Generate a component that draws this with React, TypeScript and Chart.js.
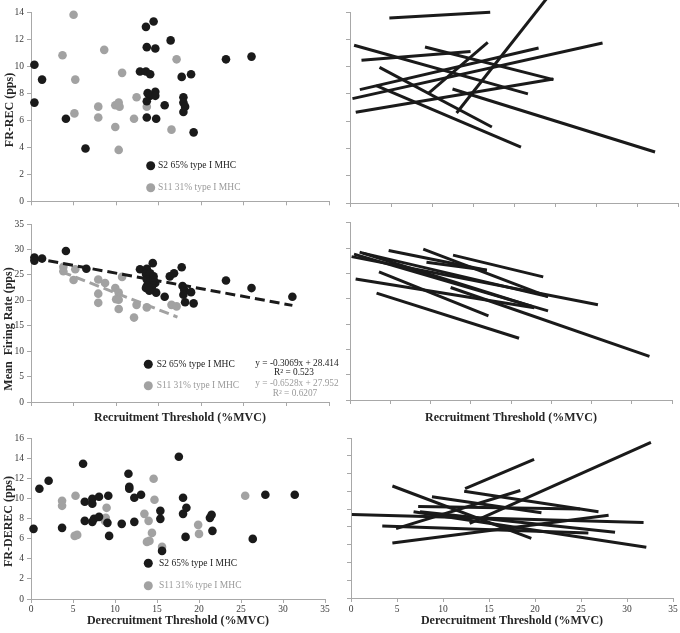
import React, { useEffect, useRef } from "react";
import { Chart, registerables } from "chart.js";

Chart.register(...registerables);

type Pt = [number, number];
type Seg = [number, number, number, number];

// ---------------- Data ----------------
// FR-REC (pps) vs recruitment threshold (%MVC)
const REC_S2: Pt[] = [
  [0.4, 10.1], [0.4, 7.3], [1.3, 9.0], [4.1, 6.1], [6.4, 3.9], [13.5, 12.9], [14.4, 13.3],
  [13.6, 11.4], [14.6, 11.3], [16.4, 11.9], [12.8, 9.6], [13.5, 9.6], [14.0, 9.4], [17.7, 9.2],
  [18.8, 9.4], [13.7, 8.0], [14.0, 7.8], [14.6, 8.1], [14.6, 7.8], [13.6, 7.4], [15.7, 7.1],
  [17.9, 7.7], [17.9, 7.3], [18.1, 7.0], [17.9, 6.6], [13.6, 6.2], [14.7, 6.1], [19.1, 5.1],
  [22.9, 10.5], [25.9, 10.7],
];
const REC_S11: Pt[] = [
  [5.0, 13.8], [3.7, 10.8], [5.2, 9.0], [8.6, 11.2], [10.7, 9.5], [17.1, 10.5], [5.1, 6.5],
  [7.9, 7.0], [7.9, 6.2], [9.9, 7.1], [10.3, 7.3], [10.4, 7.0], [12.4, 7.7], [12.1, 6.1],
  [9.9, 5.5], [10.3, 3.8], [13.6, 7.0], [16.5, 5.3],
];

// Mean firing rate (pps) vs recruitment threshold (%MVC)
const MFR_S2: Pt[] = [
  [0.4, 28.4], [0.4, 27.8], [1.3, 28.2], [4.1, 29.7], [6.5, 26.2], [12.8, 26.1], [13.6, 26.2],
  [14.3, 27.3], [13.5, 25.2], [14.0, 25.3], [14.4, 24.7], [13.6, 24.1], [14.0, 23.7], [14.6, 23.4],
  [13.6, 22.8], [14.2, 22.6], [13.5, 22.4], [14.7, 21.5], [13.9, 21.9], [14.4, 24.0], [15.7, 20.7],
  [16.3, 24.7], [16.8, 25.3], [17.7, 26.5], [17.8, 22.8], [18.0, 22.0], [17.9, 21.1], [18.8, 21.6],
  [18.1, 19.6], [19.1, 19.4], [22.9, 23.9], [25.9, 22.4], [30.7, 20.7],
];
const MFR_S11: Pt[] = [
  [3.8, 26.6], [3.8, 25.7], [5.2, 26.1], [5.0, 24.0], [7.9, 24.1], [8.7, 23.4], [7.9, 21.3],
  [7.9, 19.5], [9.9, 22.4], [10.3, 21.5], [10.0, 20.2], [10.3, 20.1], [10.3, 18.3], [10.7, 24.6],
  [12.4, 19.1], [12.1, 16.6], [13.6, 18.6], [16.5, 19.1], [17.1, 18.8],
];
const MFR_TREND_S2: Seg = [0.3, 28.3, 30.7, 19.0];
const MFR_TREND_S11: Seg = [3.6, 25.6, 17.2, 16.7];

// FR-DEREC (pps) vs derecruitment threshold (%MVC)
const DEREC_S2: Pt[] = [
  [0.3, 7.0], [1.0, 11.0], [2.1, 11.8], [3.7, 7.1], [6.2, 13.5], [6.4, 9.7], [6.4, 7.8],
  [7.3, 10.0], [7.3, 9.5], [7.3, 7.7], [7.5, 8.0], [8.1, 8.2], [8.1, 10.2], [9.2, 10.3],
  [9.1, 7.6], [9.3, 6.3], [10.8, 7.5], [11.6, 12.5], [11.7, 11.2], [11.7, 11.0], [12.3, 10.1],
  [12.3, 7.7], [13.1, 10.4], [15.4, 8.8], [15.4, 8.0], [15.6, 4.8], [17.6, 14.2], [18.1, 10.1],
  [18.1, 8.5], [18.5, 9.1], [18.4, 6.2], [21.3, 8.1], [21.5, 8.4], [21.6, 6.8], [26.4, 6.0],
  [27.9, 10.4], [31.4, 10.4],
];
const DEREC_S11: Pt[] = [
  [3.7, 9.8], [3.7, 9.3], [5.3, 10.3], [5.2, 6.3], [5.5, 6.4], [9.0, 9.1], [8.9, 8.1],
  [8.8, 7.8], [13.5, 8.5], [14.6, 12.0], [14.7, 9.9], [14.0, 7.8], [13.8, 5.7], [14.1, 5.8],
  [14.4, 6.6], [15.6, 5.2], [19.9, 7.4], [20.0, 6.5], [25.5, 10.3],
];

// Per-subject regression segments [x1, y1, x2, y2]
const REC_LINES: Seg[] = [
  [4.8, 13.56, 17.1, 13.98], [13.0, 6.6, 24.0, 15.0], [0.5, 11.56, 21.7, 8.0],
  [1.4, 10.46, 14.7, 11.1], [9.15, 11.43, 24.8, 9.04], [1.2, 8.31, 23.0, 11.36],
  [0.3, 7.65, 30.8, 11.73], [0.7, 6.65, 24.8, 9.09], [3.6, 9.94, 17.3, 5.57],
  [3.2, 8.6, 20.85, 4.1], [9.6, 8.06, 16.8, 11.78], [12.5, 8.36, 37.2, 3.74],
];
const MFR_LINES: Seg[] = [
  [4.8, 29.5, 17.0, 25.6], [9.1, 29.8, 24.6, 20.4], [12.8, 28.6, 24.0, 24.3],
  [9.5, 27.2, 17.0, 25.6], [0.2, 28.3, 30.8, 18.8], [0.5, 28.8, 24.6, 17.6],
  [1.2, 29.2, 22.7, 18.4], [1.6, 29.0, 24.6, 20.4], [0.7, 23.9, 22.9, 18.2],
  [3.6, 25.3, 17.2, 16.6], [3.3, 21.1, 21.0, 12.2], [12.5, 22.2, 37.2, 8.6],
];
const DEREC_LINES: Seg[] = [
  [0.1, 9.4, 31.8, 8.5], [4.5, 12.6, 19.6, 6.7], [4.9, 7.8, 18.4, 12.1],
  [3.4, 8.1, 25.8, 7.3], [4.5, 6.2, 28.0, 9.3], [12.4, 12.3, 19.9, 15.6],
  [12.3, 12.0, 26.9, 9.7], [8.8, 11.4, 20.7, 9.6], [7.3, 10.3, 24.9, 10.0],
  [7.5, 9.7, 28.7, 7.4], [12.9, 8.4, 32.6, 17.5], [6.8, 9.7, 32.1, 5.7],
];

const LEGEND_S2 = "S2 65% type I MHC";
const LEGEND_S11 = "S11 31% type I MHC";
const EQ_S2 = "y = -0.3069x + 28.414";
const R2_S2 = "R² = 0.523";
const EQ_S11 = "y = -0.6528x + 27.952";
const R2_S11 = "R² = 0.6207";

const TITLE_REC = "Recruitment Threshold (%MVC)";
const TITLE_DEREC = "Derecruitment Threshold (%MVC)";

// ---------------- Styling ----------------
const FONT = "'Liberation Serif', 'Times New Roman', serif";
const BLACK = "#1a1a1a";
const GRAY = "#a2a2a2";
const AXIS = "#a8a8a8";
const TICK_TEXT = "#3a3a3a";
const TITLE_TEXT = "#262626";

const xy = (pts: Pt[]) => pts.map(([x, y]) => ({ x, y }));
const segXY = (s: Seg) => [{ x: s[0], y: s[1] }, { x: s[2], y: s[3] }];

const scatterDs = (label: string, pts: Pt[], color: string) => ({
  label,
  data: xy(pts),
  backgroundColor: color,
  borderColor: color,
  pointRadius: 4.3,
  pointBorderWidth: 0,
  pointHoverRadius: 4.3,
  showLine: false,
  clip: false as any,
  order: 2,
});
const trendDs = (label: string, s: Seg, color: string) => ({
  label,
  data: segXY(s),
  borderColor: color,
  backgroundColor: color,
  borderWidth: 3,
  borderDash: [10, 5],
  pointRadius: 0,
  showLine: true,
  fill: false,
  order: 0,
});
const segDs = (s: Seg, i: number) => ({
  label: "s" + i,
  data: segXY(s),
  borderColor: BLACK,
  backgroundColor: BLACK,
  borderWidth: 3,
  pointRadius: 0,
  showLine: true,
  fill: false,
  clip: false as any,
});

interface AxisSpec {
  min: number;
  max: number;
  step: number;
  labels: boolean;
  size: number;
  title?: string;
  titlePad?: number;
  labelPad?: number;
}
interface TextItem {
  x: number;
  y: number;
  text: string;
  color: string;
  align?: CanvasTextAlign;
  size?: number;
  bold?: boolean;
  rotate?: boolean;
  dot?: boolean;
}
interface Panel {
  left: number;
  top: number;
  width: number;
  height: number;
  padTop: number;
  padRight: number;
  x: AxisSpec;
  y: AxisSpec;
  datasets: any[];
  texts: TextItem[];
}

const axis = (a: AxisSpec) => ({
  type: "linear",
  min: a.min,
  max: a.max,
  ticks: {
    stepSize: a.step,
    display: a.labels,
    autoSkip: false,
    maxRotation: 0,
    padding: a.labelPad ?? 3,
    color: TICK_TEXT,
    font: { family: FONT, size: 9.5 },
  },
  grid: {
    display: true,
    drawOnChartArea: false,
    drawTicks: true,
    tickLength: 4,
    tickWidth: 1,
    color: AXIS,
  },
  border: { display: true, color: AXIS, width: 1 },
  title: a.title
    ? {
        display: true,
        text: a.title,
        color: TITLE_TEXT,
        font: { family: FONT, size: 12, weight: "bold" },
        padding: { top: 0, bottom: a.titlePad ?? 0 },
      }
    : { display: false },
  afterFit: (s: any) => {
    if (s.isHorizontal()) s.height = a.size;
    else s.width = a.size;
  },
});

const legendTexts = (dotX: number, y1: number, y2: number, textX: number): TextItem[] => [
  { x: dotX, y: y1, text: "", color: BLACK, dot: true },
  { x: dotX, y: y2, text: "", color: GRAY, dot: true },
  { x: textX, y: y1, text: LEGEND_S2, color: "#222222" },
  { x: textX, y: y2, text: LEGEND_S11, color: "#9a9a9a" },
];

const PANELS: Panel[] = [
  // top-left
  {
    left: 0, top: 0, width: 340, height: 210, padTop: 12, padRight: 11,
    x: { min: 0, max: 35, step: 5, labels: false, size: 7 },
    y: { min: 0, max: 14, step: 2, labels: true, size: 31 },
    datasets: [scatterDs(LEGEND_S2, REC_S2, BLACK), scatterDs(LEGEND_S11, REC_S11, GRAY)],
    texts: [
      { x: 10, y: 110, text: "FR-REC (pps)", color: TITLE_TEXT, bold: true, size: 12, rotate: true, align: "center" },
      ...legendTexts(150.7, 165.7, 187.7, 158),
    ],
  },
  // middle-left
  {
    left: 0, top: 210, width: 340, height: 220, padTop: 14, padRight: 11,
    x: { min: 0, max: 35, step: 5, labels: false, size: 28, title: TITLE_REC, titlePad: 5.3 },
    y: { min: 0, max: 35, step: 5, labels: true, size: 31 },
    datasets: [
      trendDs("S2 trend", MFR_TREND_S2, BLACK),
      trendDs("S11 trend", MFR_TREND_S11, GRAY),
      scatterDs(LEGEND_S2, MFR_S2, BLACK),
      scatterDs(LEGEND_S11, MFR_S11, GRAY),
    ],
    texts: [
      { x: 9, y: 119, text: "Mean  Firing Rate (pps)", color: TITLE_TEXT, bold: true, size: 12, rotate: true, align: "center" },
      ...legendTexts(148.3, 154.3, 175.7, 156.7),
      { x: 297, y: 153.3, text: EQ_S2, color: "#222222", align: "center", size: 9.3 },
      { x: 294, y: 162.7, text: R2_S2, color: "#222222", align: "center", size: 9.3 },
      { x: 297, y: 173.3, text: EQ_S11, color: "#9a9a9a", align: "center", size: 9.3 },
      { x: 295, y: 183.3, text: R2_S11, color: "#9a9a9a", align: "center", size: 9.3 },
    ],
  },
  // bottom-left
  {
    left: 0, top: 430, width: 340, height: 203, padTop: 8, padRight: 15,
    x: { min: 0, max: 35, step: 5, labels: true, size: 34, title: TITLE_DEREC, titlePad: 4.6, labelPad: 1 },
    y: { min: 0, max: 16, step: 2, labels: true, size: 31 },
    datasets: [scatterDs(LEGEND_S2, DEREC_S2, BLACK), scatterDs(LEGEND_S11, DEREC_S11, GRAY)],
    texts: [
      { x: 9, y: 91.5, text: "FR-DEREC (pps)", color: TITLE_TEXT, bold: true, size: 12, rotate: true, align: "center" },
      ...legendTexts(148.3, 133.3, 155.7, 159),
    ],
  },
  // top-right
  {
    left: 340, top: 0, width: 340, height: 210, padTop: 12, padRight: 2,
    x: { min: 0, max: 40, step: 5, labels: false, size: 7 },
    y: { min: 0, max: 14, step: 2, labels: false, size: 10 },
    datasets: REC_LINES.map(segDs),
    texts: [],
  },
  // middle-right
  {
    left: 340, top: 210, width: 340, height: 220, padTop: 12.7, padRight: 8,
    x: { min: 0, max: 40, step: 5, labels: false, size: 30, title: TITLE_REC, titlePad: 5.3 },
    y: { min: 0, max: 35, step: 5, labels: false, size: 10 },
    datasets: MFR_LINES.map(segDs),
    texts: [],
  },
  // bottom-right
  {
    left: 340, top: 430, width: 340, height: 203, padTop: 8, padRight: 7,
    x: { min: 0, max: 35, step: 5, labels: true, size: 35, title: TITLE_DEREC, titlePad: 4.6, labelPad: 1.5 },
    y: { min: 0, max: 18, step: 2, labels: false, size: 11 },
    datasets: DEREC_LINES.map(segDs),
    texts: [],
  },
];

const textPlugin = (items: TextItem[]) => ({
  id: "panelTexts",
  afterDraw(chart: any) {
    const ctx: CanvasRenderingContext2D = chart.ctx;
    for (const t of items) {
      ctx.save();
      if (t.dot) {
        ctx.fillStyle = t.color;
        ctx.beginPath();
        ctx.arc(t.x, t.y, 4.5, 0, Math.PI * 2);
        ctx.fill();
        ctx.restore();
        continue;
      }
      ctx.fillStyle = t.color;
      ctx.font = `${t.bold ? "bold " : ""}${t.size ?? 9.5}px ${FONT}`;
      ctx.textBaseline = "middle";
      ctx.textAlign = t.align ?? "left";
      if (t.rotate) {
        ctx.translate(t.x, t.y);
        ctx.rotate(-Math.PI / 2);
        ctx.fillText(t.text, 0, 0);
      } else {
        ctx.fillText(t.text, t.x, t.y);
      }
      ctx.restore();
    }
  },
});

export default function App() {
  const refs = useRef<(HTMLCanvasElement | null)[]>([]);

  useEffect(() => {
    document.body.style.margin = "0";
    Chart.defaults.font.family = FONT;
    const charts = PANELS.map((p, i) => {
      const canvas = refs.current[i]!;
      return new Chart(canvas, {
        type: "scatter",
        data: { datasets: p.datasets },
        options: {
          animation: false,
          responsive: false,
          devicePixelRatio: 1,
          events: [],
          layout: { padding: { top: p.padTop, right: p.padRight, left: 0, bottom: 0 } },
          plugins: { legend: { display: false }, tooltip: { enabled: false } },
          scales: { x: axis(p.x) as any, y: axis(p.y) as any },
        },
        plugins: [textPlugin(p.texts)],
      } as any);
    });
    return () => charts.forEach((c) => c.destroy());
  }, []);

  return (
    <div style={{ position: "fixed", left: 0, top: 0, width: 680, height: 633, background: "#ffffff", overflow: "hidden" }}>
      {PANELS.map((p, i) => (
        <canvas
          key={i}
          ref={(el) => { refs.current[i] = el; }}
          width={p.width}
          height={p.height}
          style={{ position: "absolute", left: p.left, top: p.top, width: p.width, height: p.height }}
        />
      ))}
    </div>
  );
}
